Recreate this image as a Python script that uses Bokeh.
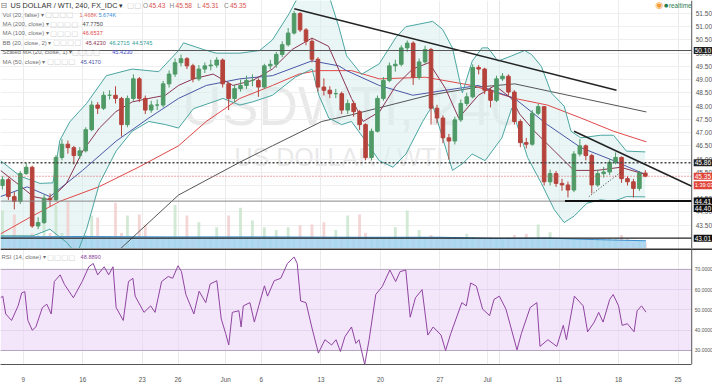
from bokeh.plotting import figure
from bokeh.models import (Range1d, FixedTicker, Grid, Label, LinearAxis,
                          ColumnDataSource, Span, BoxAnnotation)
from bokeh.layouts import column
from bokeh.embed import file_html
from bokeh.resources import INLINE
from bokeh.core.properties import value

# ---------------- data ----------------
# trading-day index: 0 = Mon May 9 (weekends skipped)
tick_days = [0, 5, 10, 13, 17, 20, 25, 30, 35, 39, 45, 50, 55]
tick_labels = ["9", "16", "23", "26", "Jun", "6", "13", "20", "27", "Jul", "11", "18", "25"]
price_ticks = [43.5, 44.0, 44.5, 45.0, 45.5, 46.0, 46.5, 47.0, 47.5, 48.0, 48.5,
               49.0, 49.5, 50.0, 50.5, 51.0, 51.5]
rsi_ticks = [30, 40, 50, 60, 70]

first_bar_day = -1.75
bar_step_days = 0.5
first_open = 45.00
close = [45.22, 44.58, 44.40, 45.45, 45.69, 43.47, 43.60, 44.52, 44.46, 46.06,
         46.56, 46.43, 46.13, 46.31, 47.11, 48.04, 47.92, 48.41, 48.41, 48.29,
         47.30, 48.29, 49.03, 48.29, 47.85, 48.04, 48.04, 48.84, 49.21, 49.64,
         49.79, 49.52, 49.03, 49.40, 49.52, 49.55, 49.74, 48.84, 48.29, 48.66,
         48.78, 48.97, 48.97, 48.72, 49.52, 49.58, 49.95, 50.32, 50.76, 51.50,
         50.88, 50.45, 49.77, 48.72, 48.60, 48.47, 48.47, 47.85, 48.10, 47.79,
         47.30, 46.06, 47.05, 48.29, 48.97, 49.52, 49.58, 50.20, 50.38, 49.09,
         49.67, 50.14, 47.92, 47.55, 46.80, 46.68, 47.48, 48.10, 48.35, 49.46,
         49.40, 48.60, 48.22, 49.03, 49.13, 48.53, 47.42, 46.62, 46.56, 47.73,
         47.98, 45.14, 45.45, 45.08, 45.02, 44.83, 46.19, 46.50, 46.13, 45.02,
         45.45, 45.51, 45.88, 46.06, 45.26, 45.14, 44.89, 45.47, 45.35]
high = [45.35, 45.30, 44.75, 45.55, 45.85, 45.75, 43.80, 44.65, 44.70, 46.15,
        46.75, 46.70, 46.50, 46.45, 47.20, 48.20, 48.15, 48.55, 48.60, 48.75,
        48.35, 48.40, 49.20, 49.10, 48.40, 48.20, 48.25, 48.95, 49.35, 49.80,
        49.95, 49.85, 49.60, 49.55, 49.65, 49.75, 49.85, 49.80, 48.90, 48.80,
        49.00, 49.15, 49.20, 49.05, 49.60, 49.75, 50.05, 50.45, 50.95, 51.60,
        51.55, 50.95, 50.55, 49.85, 49.05, 48.75, 48.65, 48.55, 48.25, 48.20,
        47.85, 47.35, 47.15, 48.40, 49.10, 49.65, 49.75, 50.30, 50.48, 50.45,
        49.80, 50.28, 50.20, 48.05, 47.65, 46.95, 47.60, 48.25, 48.50, 49.58,
        49.55, 49.45, 48.70, 49.15, 49.25, 49.20, 48.60, 47.50, 46.80, 47.85,
        48.08, 48.00, 45.60, 45.55, 45.25, 45.15, 46.30, 46.75, 46.55, 46.20,
        45.60, 45.70, 46.00, 46.25, 46.10, 45.35, 45.25, 45.55, 45.58]
low = [44.85, 44.45, 44.10, 44.30, 45.40, 43.40, 43.35, 43.55, 44.20, 44.40,
       45.95, 46.20, 45.80, 46.00, 46.25, 47.05, 47.70, 47.85, 48.25, 48.10,
       46.85, 47.20, 48.20, 48.15, 47.70, 47.75, 47.85, 47.95, 48.70, 49.10,
       49.50, 49.40, 48.90, 48.95, 49.25, 49.35, 49.45, 48.70, 47.85, 48.15,
       48.55, 48.65, 48.75, 48.35, 48.65, 49.40, 49.45, 49.85, 50.25, 50.70,
       50.80, 50.30, 49.65, 48.55, 48.40, 48.30, 48.30, 47.70, 47.70, 47.60,
       47.10, 45.95, 45.95, 47.00, 48.20, 48.90, 49.30, 49.50, 50.05, 48.80,
       49.00, 49.60, 47.30, 47.35, 46.60, 45.98, 46.55, 47.40, 48.00, 48.30,
       49.20, 48.45, 47.95, 48.15, 48.95, 48.40, 47.30, 46.45, 46.40, 46.50,
       47.65, 45.00, 45.00, 44.95, 44.80, 44.55, 44.75, 46.10, 45.95, 44.70,
       44.95, 45.30, 45.40, 45.80, 45.10, 45.00, 44.55, 44.80, 45.31]
volume_k = [9.8, 3, 8.8, 3, 2.5, 4, 3.5, 8.8, 4, 11.2,
            4, 12.2, 3, 3, 3.5, 8.5, 8, 3, 3, 11.8,
            4, 8.5, 3, 8.8, 6.2, 3, 3, 3, 3, 11.2,
            3, 8.5, 3, 6.8, 3, 3, 5.5, 3, 8.5, 3,
            10.5, 3, 7.2, 3, 5.5, 3, 4.8, 3, 5.5, 3,
            6, 3, 6.2, 3, 6.8, 3, 4.8, 3, 8.5, 3,
            8.8, 4, 3, 3, 3, 3, 5.5, 3, 9.8, 3,
            4.8, 3, 3.5, 3, 3, 3, 3, 3, 3.8, 3,
            2.8, 2.8, 2.8, 2.8, 2.8, 2.8, 3.5, 2.8, 3.8, 2.8,
            6.2, 2.8, 4.2, 2.5, 2.5, 2.5, 2.5, 2.5, 2.5, 2.5,
            2.5, 2.5, 2.5, 2.5, 3.5, 2.5, 1.5, 2.2, 1.5]
vol_base_day = [-1.9, 5, 12, 20, 28, 35, 40, 44, 48, 52.3]
vol_base_k = [3.0, 3.1, 3.0, 3.0, 2.9, 2.9, 2.6, 2.7, 2.3, 2.0]

ma20_day = [-1.91, -0.52, 0.86, 2.24, 3.63, 5.01, 6.40, 7.78, 9.16, 10.55, 11.94, 13.04, 14.29,
            15.95, 17.61, 19.27, 20.93, 22.59, 24.25, 25.64, 27.57, 28.55, 29.93, 31.31, 32.70,
            34.08, 35.47, 36.57, 38.23, 39.62, 41.0, 41.69, 42.94, 44.60, 46.26, 48.17, 50.17, 52.24]
ma20_val = [45.57, 45.08, 44.58, 44.46, 45.08, 46.31, 47.17, 47.79, 48.16, 48.29, 48.41, 48.78, 49.03,
            49.21, 48.78, 48.97, 49.4, 50.14, 50.57, 50.26, 48.29, 47.42, 47.79, 48.78, 49.4,
            49.64, 48.66, 47.55, 48.41, 48.78, 48.29, 47.7, 47.05, 46.31, 45.57, 45.57, 45.69, 45.42]
ma50_day = [-1.91, 0.33, 2.24, 4.98, 7.81, 10.55, 13.04, 15.37, 18.19, 20.93, 24.25, 26.50,
            27.16, 29.90, 32.72, 35.47, 38.21, 41.28, 44.02, 46.84, 49.58, 52.24]
ma50_val = [44.58, 44.95, 44.58, 45.57, 46.68, 47.55, 48.29, 48.78, 49.03, 49.15, 49.71, 49.52,
            49.34, 48.78, 48.41, 48.6, 48.78, 48.29, 47.3, 46.43, 45.94, 45.42]
ma100_day = [-1.91, 0.58, 3.07, 6.40, 9.72, 13.04, 15.37, 18.19, 20.93, 23.17, 24.67, 27.57,
             29.90, 33.80, 37.71, 41.28, 44.02, 46.84, 49.58, 52.33]
ma100_val = [43.17, 43.8, 44.4, 44.96, 45.7, 46.5, 47.42, 48.29, 48.78, 49.21, 49.34, 49.34,
             49.03, 49.09, 48.78, 48.29, 48.04, 47.55, 47.05, 46.65]
ma200_day = [7.9, 13.04, 18.19, 20.93, 25.08, 27.57, 34.05, 38.21, 41.28, 52.33]
ma200_val = [42.5, 44.64, 45.88, 46.5, 47.42, 47.67, 48.41, 48.72, 48.84, 47.78]

bb_up_day = [-1.91, -0.25, 1.41, 2.49, 3.07, 3.90, 5.32, 6.98, 9.14, 11.38, 13.04, 13.46, 15.12,
             16.20, 18.19, 19.85, 20.93, 22.34, 23.17, 25.66, 26.50, 27.16, 28.41, 29.90, 31.31,
             32.14, 34.39, 35.22, 36.05, 36.88, 37.71, 38.54, 39.04, 39.87, 41.03, 42.11, 42.69,
             43.52, 44.35, 45.43, 46.01, 46.84, 48.50, 49.58, 50.66, 52.24]
bb_up_val = [45.94, 45.35, 45.08, 45.1, 46.7, 47.4, 48.1, 49.15, 49.4, 49.3, 50.1, 50.39, 50.14,
             50.0, 50.0, 50.1, 50.5, 51.5, 52.2, 52.2, 51.0, 49.9, 49.2, 49.6, 50.6,
             51.0, 51.2, 50.9, 50.2, 48.5, 49.7, 50.2, 50.2, 49.7, 49.9, 50.1, 49.95,
             49.5, 48.5, 48.0, 47.05, 46.8, 46.9, 46.9, 46.3, 46.27]
bb_lo_day = [-1.91, 0.83, 2.24, 3.65, 4.49, 5.32, 6.40, 7.81, 9.14, 10.55, 11.96, 13.04, 14.29,
             16.78, 18.19, 19.27, 20.93, 22.84, 24.25, 24.83, 25.66, 26.74, 27.57, 28.57, 29.90,
             31.06, 32.14, 33.55, 34.39, 35.22, 36.05, 36.88, 37.71, 38.79, 40.20, 41.03, 42.36,
             43.52, 44.60, 45.43, 46.26, 47.34, 48.50, 49.58, 50.66, 52.24]
bb_lo_val = [43.1, 43.1, 43.35, 42.85, 42.4, 43.35, 45.08, 46.31, 47.05, 47.42, 47.3, 47.17, 47.9,
             48.29, 48.04, 48.16, 48.41, 49.09, 49.4, 48.41, 47.55, 47.3, 47.42, 46.8, 45.94,
             45.69, 46.19, 47.42, 48.04, 46.8, 45.57, 45.82, 46.19, 45.94, 46.8, 47.92, 46.06,
             45.08, 44.09, 43.6, 43.84, 44.33, 44.46, 44.4, 44.58, 44.57]

trend_upper_day = [22.76, 49.83]
trend_upper_val = [51.68, 48.60]
trend_lower_day = [46.26, 56.15]
trend_lower_val = [47.05, 44.97]
trend_dotted_day = [47.51, 50.17]
trend_dotted_val = [44.58, 45.50]
support_day = [45.5, 56.15]
support_val = [44.41, 44.41]

# horizontal price levels: (price, colour, width, dash)
levels = [(50.10, "#555555", 1, "solid"), (45.86, "#444444", 1.5, "2 2"),
          (45.35, "#e05050", 1, "1 2"), (44.41, "#888888", 1, "solid"),
          (43.01, "#222222", 1.2, "solid")]
# price-scale markers: (price, shift px, text, colour, font size)
axis_boxes = [(50.10, 0, "50.10", "#222222", "6.5px"), (45.86, 0, "45.86", "#222222", "6.5px"),
              (45.35, 0, "45.35", "#e0453a", "6.5px"), (45.35, -9, "1:39:03", "#e0453a", "5.6px"),
              (44.41, 0, "44.41", "#111111", "6.5px"), (44.40, -7, "44.40", "#111111", "6.5px"),
              (43.01, 0, "43.01", "#111111", "6.5px")]

rsi_day = [-1.91, -1.72, -1.47, -0.98, -0.43, -0.13, 0.13, 0.39, 0.76, 1.06, 1.61, 1.98, 2.35, 2.61,
           3.10, 3.47, 4.21, 4.95, 5.51, 5.88, 6.25, 6.80, 7.17, 7.54, 7.80, 8.40, 8.84, 9.21, 9.40,
           10.14, 10.70, 11.07, 11.62, 12.18, 12.55, 13.00, 13.29, 13.66, 14.33, 14.77, 15.33,
           15.70, 16.26, 16.63, 17.00, 17.26, 17.56, 18.11, 18.30, 18.48, 19.04, 19.41, 19.78,
           20.26, 20.52, 21.08, 21.63, 22.19, 22.75, 23.01, 23.30, 23.75, 24.23, 24.79, 25.34,
           25.90, 26.27, 26.64, 27.01, 27.57, 27.94, 28.20, 28.68, 29.05, 29.61, 30.16, 30.79,
           31.28, 31.65, 32.13, 32.50, 32.94, 33.50, 33.98, 34.43, 35.09, 35.47, 35.91, 36.84,
           37.21, 37.58, 38.06, 38.58, 39.17, 39.54, 39.99, 40.54, 41.47, 41.84, 42.58, 43.14,
           43.40, 44.07, 44.81, 45.36, 45.62, 46.29, 47.03, 47.40, 47.96, 48.33, 48.70, 49.26,
           49.55, 50.00, 50.30, 50.74, 51.30, 51.56, 51.93, 52.30]
rsi_val = [56, 56.8, 48, 44.8, 52, 58.4, 59, 44.8, 40, 41.6, 51.2, 52.8, 48, 64,
           67.3, 62.5, 56, 64, 71.3, 72.9, 67.3, 71.3, 67.3, 71.3, 51.2, 44.8, 64, 65.6, 56.8,
           48.8, 52, 48.8, 64, 66.5, 65.6, 71.8, 68.9, 57.6, 48, 59.2, 53.6,
           62.8, 64.4, 45.6, 38.4, 32.7, 48.8, 49.6, 41.6, 52, 53.6, 44, 52,
           61.9, 56.8, 64.4, 65.6, 72.9, 76.1, 72.9, 54.4, 53.6, 41.6, 28.7, 35.3,
           32.7, 35.3, 29.5, 36.7, 41.6, 33.5, 35.3, 23.1, 35.3, 57.6, 61.6, 69.7,
           64, 68.9, 69.7, 46.4, 56, 60, 37.6, 41.6, 37.6, 30, 38.4, 53.6,
           52, 63.3, 61.7, 50.4, 47.2, 55.2, 56.8, 50.4, 30.3, 38.4, 51.2, 53.6,
           32, 35.3, 32, 42.4, 35.3, 56.8, 52, 39.2, 44, 48.8, 44, 55.2,
           57.6, 52, 42.4, 43.2, 39.2, 49.6, 52, 48.9]

# ---------------- layout constants ----------------
FONT = "Liberation Sans"
SX, SY = 712 / 720, 378 / 386          # page box -> reference picture
FRAME_W = 712
PRICE_H = 248
RSI_H = 116
X_START = -23 / 12.04
X_END = X_START + 720 / 12.04
AXIS_DAY = (699 - 23) / 12.04            # price-scale separator
xr = Range1d(X_START, X_END)

UP, DOWN = "#4f9a66", "#b5433c"
AX = "#555555"


def base_fig(h, yr):
    f = figure(frame_width=FRAME_W, frame_height=h, x_range=xr, y_range=yr,
               x_axis_location=None, y_axis_location=None, output_backend="svg",
               toolbar_location=None, min_border=0, outline_line_color=None,
               background_fill_color="white", border_fill_color="white")
    f.add_layout(Grid(dimension=0, ticker=FixedTicker(ticks=tick_days), grid_line_color="#ebebeb"))
    return f


# ---------------- price panel ----------------
p = base_fig(PRICE_H, Range1d(42.62, 51.99))
p.extra_y_ranges = {"vol": Range1d(0, 64)}
p.add_layout(Grid(dimension=1, ticker=FixedTicker(ticks=price_ticks), grid_line_color="#efefef"))
p.add_layout(BoxAnnotation(left=AXIS_DAY, fill_color="white", fill_alpha=1, line_color=None,
                           level="underlay"))


def pl(xr_, yr_, text, color, size="5.8px", font=FONT, fig=None, top=0, fh=None, **kw):
    fig = fig if fig is not None else p
    fh = fh if fh is not None else PRICE_H
    fig.add_layout(Label(x=xr_ * SX, y=fh - (yr_ * SY - top), x_units="screen", y_units="screen",
                         text=text, text_color=color, text_font_size=size, text_font=font,
                         text_baseline="middle", level=kw.pop("level", "overlay"), **kw))


# watermark
pl(355, 108, "USDWTI, 240", "#e4e4e4", "55px", text_alpha=0.8, text_align="center", level="image")
pl(342, 160, "US DOLLAR / WTI", "#e4e4e4", "25px", text_alpha=0.8, text_align="center",
   level="image")

# bollinger fill
p.patch(bb_up_day + bb_lo_day[::-1], bb_up_val + bb_lo_val[::-1],
        fill_color="#d9efee", fill_alpha=0.55, line_color=None)

n = len(close)
bar_day = [first_bar_day + bar_step_days * i for i in range(n)]
open_ = [first_open] + close[:-1]
is_up = [c >= o for o, c in zip(open_, close)]
src = ColumnDataSource(dict(
    t=bar_day, o=open_, c=close, h=high, l=low,
    top=[max(o, c) for o, c in zip(open_, close)],
    bot=[min(o, c) for o, c in zip(open_, close)],
    col=[UP if u else DOWN for u in is_up],
    vol=volume_k,
    vcol=["#c5e3cb" if u else "#f2cccc" for u in is_up],
))

# volume
p.vbar(x="t", width=0.24, top="vol", bottom=0, source=src, y_range_name="vol",
       fill_color="vcol", line_color=None, fill_alpha=0.8)
p.varea(x=vol_base_day, y1=[0] * len(vol_base_day), y2=vol_base_k, y_range_name="vol",
        fill_color="#a3d4f0", fill_alpha=0.85)
p.line(vol_base_day, vol_base_k, y_range_name="vol", line_color="#3b8fd0", line_width=1)

# moving averages & bands
p.line(ma200_day, ma200_val, line_color="#555555", line_width=1)
p.line(ma100_day, ma100_val, line_color="#e04848", line_width=1)
p.line(ma50_day, ma50_val, line_color="#4a56a6", line_width=1)
p.line(bb_up_day, bb_up_val, line_color="#4aa5a1", line_width=1)
p.line(bb_lo_day, bb_lo_val, line_color="#4aa5a1", line_width=1)
p.line(ma20_day, ma20_val, line_color="#8a3550", line_width=1)

# candles
p.segment(x0="t", y0="h", x1="t", y1="l", source=src, line_color="col", line_width=1)
p.vbar(x="t", width=0.3, top="top", bottom="bot", source=src, fill_color="col", line_color="col")

# horizontal levels (end at the price scale)
for price, col, w, dash in levels:
    p.segment(x0=[X_START], y0=[price], x1=[AXIS_DAY], y1=[price],
              line_color=col, line_width=w, line_dash=dash)

# drawn trend lines
p.line(trend_upper_day, trend_upper_val, line_color="#222222", line_width=1.5)
p.line(trend_lower_day, trend_lower_val, line_color="#222222", line_width=1.5)
p.line(trend_dotted_day, trend_dotted_val, line_color="#333333", line_width=1, line_dash="1 2")
p.line(support_day, support_val, line_color="#111111", line_width=2)

# price scale
p.add_layout(Span(location=AXIS_DAY, dimension="height", line_color=AX, line_width=1))
p.text(x=[AXIS_DAY] * len(price_ticks), y=price_ticks, text=[f"{v:.2f}" for v in price_ticks],
       x_offset=4, text_font=value(FONT), text_font_size="6.5px", text_color=AX,
       text_baseline="middle")
for price, dy, txt, col, fs in axis_boxes:
    p.add_layout(Label(x=AXIS_DAY, y=price, x_offset=2, y_offset=dy,
                       text=txt, text_color="white", text_font_size=fs, text_font=FONT,
                       text_baseline="middle", background_fill_color=col,
                       padding=(1, 1), level="overlay"))

# legend block (reference pixel positions)
BOX = "\u25a2\u25a2\u25a2\u25a2"
GREY = "#707070"
pl(0, 5, "\u229f", "#777777", "8px", "DejaVu Sans")
pl(10, 5, "US DOLLAR / WTI, 240, FX_IDC \u25be", "#333333", "7.3px")
pl(128, 5, "\u25a2\u25a2", "#cccccc", "7.5px", "DejaVu Sans")
for xp, txt in [(144, "O"), (171, "H"), (199, "L"), (226, "C")]:
    pl(xp, 5, txt, "#888888", "6.6px")
for xp, txt in [(150, "45.43"), (177, "45.58"), (204, "45.31"), (232, "45.35")]:
    pl(xp, 5, txt, "#d9534f", "6.6px")

legend_rows = [
    (14.7, "Vol (20, false) \u25be", 45, [(80, "1.468K", "#e06666"), (99, "5.674K", "#3d8fd6")]),
    (24.0, "MA (200, close) \u25be", 50, [(83, "47.7750", "#444444")]),
    (33.3, "MA (100, close) \u25be", 50, [(83, "46.6537", "#e04848")]),
    (43.3, "BB (20, close, 2) \u25be", 53, [(86, "45.4230", "#8a3550"), (110, "46.2715", "#2f9c97"),
                                           (133, "44.5745", "#2f9c97")]),
    (52.7, "Scaled MA (20, close, 1) \u25be", 72, [(113, "45.4230", "#4a4fd0")]),
    (62.3, "MA (50, close) \u25be", 47, [(81, "45.4170", "#4a56a6")]),
]
for yp, name, bx, vals in legend_rows:
    pl(2, yp, name, GREY, "6px")
    pl(bx, yp, BOX, "#d0d0d0", "7.5px", "DejaVu Sans")
    for xp, txt, col in vals:
        pl(xp, yp, txt, col, "5.6px")

# realtime badge
pl(662, 5, "\u25c9", "#f39c34", "9px", "DejaVu Sans")
pl(671, 5, "\u25cf", "#2e7d4f", "5px", "DejaVu Sans")
pl(676, 5, "realtime", "#2e7d4f", "6.3px")

# ---------------- RSI panel ----------------
r = base_fig(RSI_H, Range1d(23.08, 80.3))
r.add_layout(Grid(dimension=1, ticker=FixedTicker(ticks=[40, 50, 60]), grid_line_color="#ddd0e4"))
r.add_layout(BoxAnnotation(left=AXIS_DAY, fill_color="white", fill_alpha=1, line_color=None,
                           level="underlay"))
r.add_layout(BoxAnnotation(bottom=30, top=70, right=AXIS_DAY, fill_color="#ecd6f6", fill_alpha=0.6,
                           line_color=None, level="underlay"))
for lv in (70, 30):
    r.segment(x0=[X_START], y0=[lv], x1=[AXIS_DAY], y1=[lv], line_color="#b4a4bf", line_width=1)
r.add_layout(Span(location=80.0, dimension="width", line_color="#333333", line_width=2))
r.add_layout(Span(location=AXIS_DAY, dimension="height", line_color=AX, line_width=1))
r.line(rsi_day, rsi_val, line_color="#8e44a0", line_width=1)
r.text(x=[AXIS_DAY] * len(rsi_ticks), y=rsi_ticks, text=[f"{v:.4f}" for v in rsi_ticks],
       x_offset=3, text_font=value(FONT), text_font_size="5px", text_color=AX,
       text_baseline="middle")

# time axis below RSI panel
rax = LinearAxis(ticker=FixedTicker(ticks=tick_days),
                 major_label_overrides={d: lab for d, lab in zip(tick_days, tick_labels)},
                 major_label_text_font_size="6.3px", major_label_text_font=FONT,
                 major_label_text_color=AX, axis_line_color=AX, major_tick_line_color=None,
                 minor_tick_line_color=None, major_label_standoff=5,
                 bounds=(X_START, AXIS_DAY))
r.add_layout(rax, "below")

pl(1, 262, "RSI (14, close) \u25be", GREY, "6px", fig=r, top=PRICE_H, fh=RSI_H)
pl(47, 262, BOX, "#d0d0d0", "7.5px", "DejaVu Sans", fig=r, top=PRICE_H, fh=RSI_H)
pl(81, 262, "48.8890", "#8e44a0", "5.6px", fig=r, top=PRICE_H, fh=RSI_H)

layout = column(p, r, spacing=0)
open("out.html", "w").write(file_html(layout, INLINE))
